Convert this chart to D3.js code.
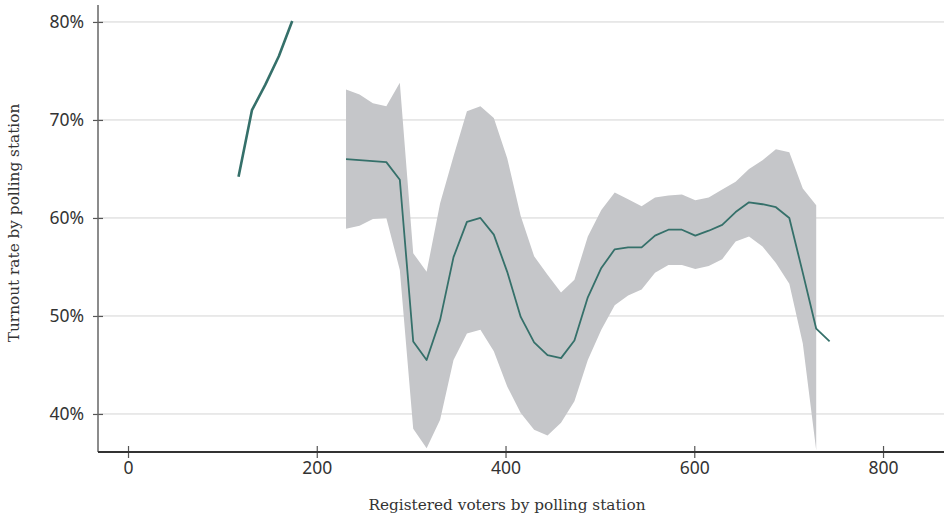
<!DOCTYPE html>
<html>
<head>
<meta charset="utf-8">
<script src="https://cdn.jsdelivr.net/npm/d3@7"></script>
<style>
  html, body { margin: 0; padding: 0; background: #fff; }
  svg { display: block; }
</style>
</head>
<body>
<svg id="chart" width="944" height="519"></svg>
<script>
// Registered voters (x) for the small, unbanded leading segment
const leadVoters = [117.1, 131.3, 145.5, 159.8, 174.0];
const leadTurnout = [64.2, 71.0, 73.6, 76.5, 80.1];

// Registered voters for the main series
const voters = [231.0, 245.3, 259.5, 273.7, 288.0, 302.2, 316.4, 330.7, 344.9, 359.1,
  373.4, 387.6, 401.8, 416.1, 430.3, 444.5, 458.8, 473.0, 487.2, 501.5,
  515.7, 529.9, 544.2, 558.4, 572.6, 586.9, 601.1, 615.3, 629.6, 643.8,
  658.0, 672.3, 686.5, 700.7, 715.0, 729.2, 743.4];

// Central turnout estimate (%)
const turnout = [66.0, 65.9, 65.8, 65.7, 63.9, 47.4, 45.5, 49.6, 56.0, 59.6,
  60.0, 58.3, 54.5, 49.9, 47.3, 46.0, 45.7, 47.5, 51.9, 54.9,
  56.8, 57.0, 57.0, 58.2, 58.8, 58.8, 58.2, 58.7, 59.3, 60.6,
  61.6, 61.4, 61.1, 60.0, 54.4, 48.7, 47.4];

// Upper and lower bounds of the band (%), null where no band is drawn
const upper = [73.1, 72.6, 71.7, 71.4, 73.8, 56.4, 54.5, 61.5, 66.3, 70.9,
  71.4, 70.2, 66.1, 60.2, 56.1, 54.2, 52.4, 53.7, 58.1, 60.8,
  62.6, 61.9, 61.2, 62.1, 62.3, 62.4, 61.8, 62.1, 62.9, 63.7,
  65.0, 65.9, 67.0, 66.7, 63.0, 61.3, null];
const lower = [58.9, 59.2, 59.9, 60.0, 54.7, 38.5, 36.5, 39.4, 45.5, 48.2,
  48.6, 46.4, 42.8, 40.1, 38.4, 37.8, 39.1, 41.3, 45.5, 48.6,
  51.1, 52.1, 52.7, 54.4, 55.2, 55.2, 54.8, 55.1, 55.8, 57.6,
  58.1, 57.1, 55.4, 53.3, 47.2, 36.3, null];

const xTicks = [0, 200, 400, 600, 800];
const yTicks = [40, 50, 60, 70, 80];

const xTitle = "Registered voters by polling station";
const yTitle = "Turnout rate by polling station";

const plot = { left: 98, right: 944, top: 0, bottom: 452 };

const x = d3.scaleLinear().domain([-31.8, 864.6]).range([plot.left, plot.right]);
const y = d3.scaleLinear().domain([36.12, 82.24]).range([plot.bottom, plot.top]);

const svg = d3.select("#chart");

const lineColor = "#35706a";
const bandColor = "#c5c6c9";
const tickFont = "'Noto Sans', 'Open Sans', sans-serif";
const titleFont = "'DejaVu Serif', serif";

// Horizontal gridlines
svg.append("g")
  .selectAll("line")
  .data(yTicks)
  .join("line")
  .attr("x1", plot.left)
  .attr("x2", plot.right)
  .attr("y1", d => y(d))
  .attr("y2", d => y(d))
  .attr("stroke", "#d4d4d4")
  .attr("stroke-width", 1);

// Band
const bandData = voters.map((v, i) => ({ v, hi: upper[i], lo: lower[i] }))
  .filter(d => d.hi != null && d.lo != null);

svg.append("path")
  .datum(bandData)
  .attr("fill", bandColor)
  .attr("d", d3.area()
    .x(d => x(d.v))
    .y0(d => y(d.lo))
    .y1(d => y(d.hi)));

// Main line
svg.append("path")
  .datum(voters.map((v, i) => [v, turnout[i]]))
  .attr("fill", "none")
  .attr("stroke", lineColor)
  .attr("stroke-width", 1.8)
  .attr("stroke-linejoin", "round")
  .attr("d", d3.line().x(d => x(d[0])).y(d => y(d[1])));

// Leading segment
svg.append("path")
  .datum(leadVoters.map((v, i) => [v, leadTurnout[i]]))
  .attr("fill", "none")
  .attr("stroke", lineColor)
  .attr("stroke-width", 2.6)
  .attr("stroke-linejoin", "round")
  .attr("d", d3.line().x(d => x(d[0])).y(d => y(d[1])));

// Y axis
const yAxis = svg.append("g")
  .attr("transform", `translate(${plot.left},0)`)
  .call(d3.axisLeft(y).tickValues(yTicks).tickFormat(d => d + "%").tickSize(5).tickPadding(9));
yAxis.select(".domain").remove();
yAxis.selectAll(".tick line").attr("x1", 5).attr("x2", -5).attr("stroke", "#555").attr("stroke-width", 1.2);
yAxis.selectAll(".tick text")
  .attr("font-family", tickFont)
  .attr("font-size", 17.5)
  .attr("fill", "#333");
svg.append("line")
  .attr("x1", plot.left).attr("x2", plot.left)
  .attr("y1", 5).attr("y2", plot.bottom)
  .attr("stroke", "#666").attr("stroke-width", 1.5);

// X axis
const xAxis = svg.append("g")
  .attr("transform", `translate(0,${plot.bottom})`)
  .call(d3.axisBottom(x).tickValues(xTicks).tickSize(6).tickPadding(4));
xAxis.select(".domain").remove();
xAxis.selectAll(".tick line").attr("y1", -6).attr("y2", 6).attr("stroke", "#555").attr("stroke-width", 1.2);
xAxis.selectAll(".tick text")
  .attr("font-family", tickFont)
  .attr("font-size", 17.5)
  .attr("fill", "#333");
svg.append("line")
  .attr("x1", plot.left).attr("x2", plot.right)
  .attr("y1", plot.bottom).attr("y2", plot.bottom)
  .attr("stroke", "#333").attr("stroke-width", 1.8);

// Axis titles
svg.append("text")
  .attr("x", 507)
  .attr("y", 510)
  .attr("text-anchor", "middle")
  .attr("font-family", titleFont)
  .attr("font-size", 15.3)
  .attr("fill", "#333")
  .text(xTitle);

svg.append("text")
  .attr("transform", `translate(19,223) rotate(-90)`)
  .attr("text-anchor", "middle")
  .attr("font-family", titleFont)
  .attr("font-size", 15.3)
  .attr("fill", "#333")
  .text(yTitle);
</script>
</body>
</html>
